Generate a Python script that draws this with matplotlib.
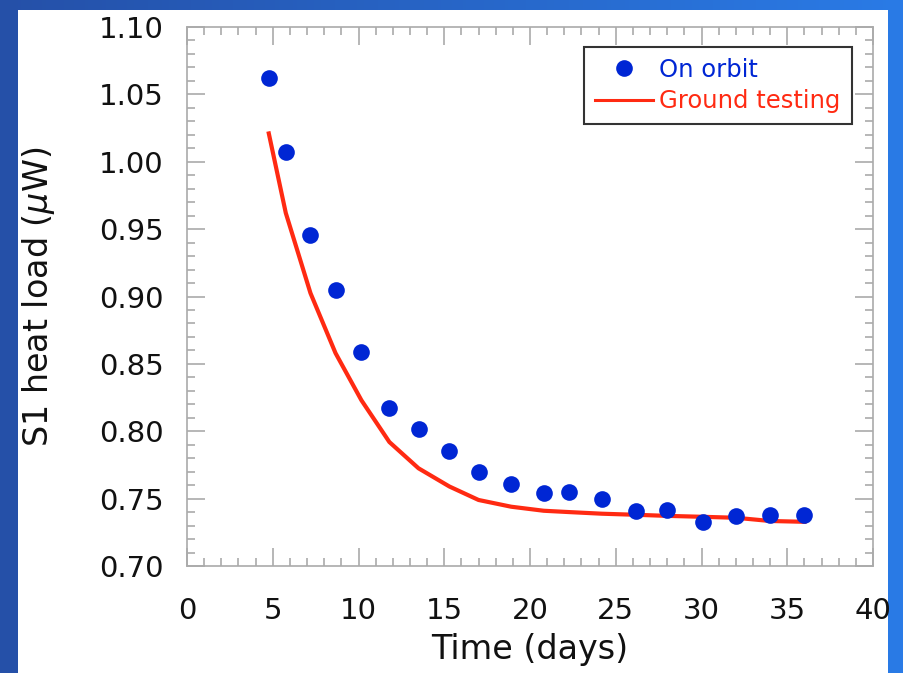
import numpy as np
import matplotlib.pyplot as plt
from matplotlib.patches import Rectangle
from matplotlib.ticker import MultipleLocator
from matplotlib.colors import LinearSegmentedColormap

# on orbit measurements
orbit_days = [4.77, 5.76, 7.2, 8.66, 10.17, 11.8, 13.5, 15.3, 17.0, 18.9,
              20.8, 22.3, 24.2, 26.2, 28.0, 30.1, 32.0, 34.0, 36.0]
orbit_load = [1.062, 1.007, 0.946, 0.905, 0.859, 0.817, 0.802, 0.785, 0.770, 0.761,
              0.754, 0.755, 0.750, 0.741, 0.7415, 0.733, 0.737, 0.738, 0.738]

# ground testing curve
ground_days = [4.77, 5.76, 7.2, 8.66, 10.17, 11.8, 13.5, 15.3, 17.0, 18.9,
               20.8, 22.3, 24.2, 26.2, 28.0, 30.1, 32.0, 34.0, 36.0]
ground_load = [1.021, 0.962, 0.9025, 0.858, 0.823, 0.792, 0.7725, 0.759, 0.749, 0.744,
               0.741, 0.740, 0.7388, 0.7380, 0.7372, 0.7365, 0.7358, 0.7334, 0.7328]

xticks = [0, 5, 10, 15, 20, 25, 30, 35, 40]
yticks = [0.70, 0.75, 0.80, 0.85, 0.90, 0.95, 1.00, 1.05, 1.10]

fig = plt.figure(figsize=(9.04, 6.73), dpi=100)

# slide style backdrop: blue gradient with a white panel
bg = fig.add_axes([0, 0, 1, 1], zorder=-10)
grad = np.linspace(0, 1, 256).reshape(1, -1)
cmap = LinearSegmentedColormap.from_list('slide', ['#2550a8', '#2a7be6'])
bg.imshow(grad, aspect='auto', cmap=cmap, extent=[0, 1, 0, 1])
bg.add_patch(Rectangle((18 / 904, 0), (888 - 18) / 904, (673 - 10) / 673,
                       facecolor='white', edgecolor='none'))
bg.set_xlim(0, 1)
bg.set_ylim(0, 1)
bg.axis('off')

ax = fig.add_axes([187 / 904, 107 / 673, 686 / 904, 539 / 673])
ax.plot(ground_days, ground_load, color='#ff2a12', lw=3, label='Ground testing', zorder=2)
ax.plot(orbit_days, orbit_load, 'o', color='#0026d4', ms=12, mec='none',
        label='On orbit', zorder=3)

ax.set_xlim(0, 40)
ax.set_ylim(0.70, 1.10)
ax.set_xticks(xticks)
ax.set_yticks(yticks)
ax.set_yticklabels(['%.2f' % v for v in yticks])
ax.xaxis.set_minor_locator(MultipleLocator(1))
ax.yaxis.set_minor_locator(MultipleLocator(0.01))
ax.tick_params(which='both', direction='in', top=True, right=True,
               color='#aaaaaa', width=1.2, labelsize=21, labelcolor='#111111')
ax.tick_params(axis='x', which='major', length=13, pad=22)
ax.tick_params(axis='y', which='major', length=13, pad=17)
ax.tick_params(which='minor', length=6)
for s in ax.spines.values():
    s.set_color('#aaaaaa')
    s.set_linewidth(1.2)

ax.set_xlabel('Time (days)', fontsize=24, color='#111111')
ax.set_ylabel(r'S1 heat load ($\mu$W)', fontsize=24, color='#111111')
ax.xaxis.set_label_coords(0.5, -0.125)
ax.yaxis.set_label_coords(-0.19, 0.5)

handles, labels = ax.get_legend_handles_labels()
leg = ax.legend(handles[::-1], labels[::-1], loc='upper right',
                bbox_to_anchor=(0.969, 0.963), borderaxespad=0, fontsize=17.5,
                fancybox=False, handlelength=2.4, handletextpad=0.25,
                labelspacing=0.3, borderpad=0.45, framealpha=1)
leg.get_frame().set_edgecolor('#333333')
leg.get_frame().set_linewidth(1.5)
leg.get_texts()[0].set_color('#0026d4')
leg.get_texts()[1].set_color('#ff2a12')
leg.get_lines()[1].set_linewidth(2.2)

plt.savefig('out.png', dpi=100)
